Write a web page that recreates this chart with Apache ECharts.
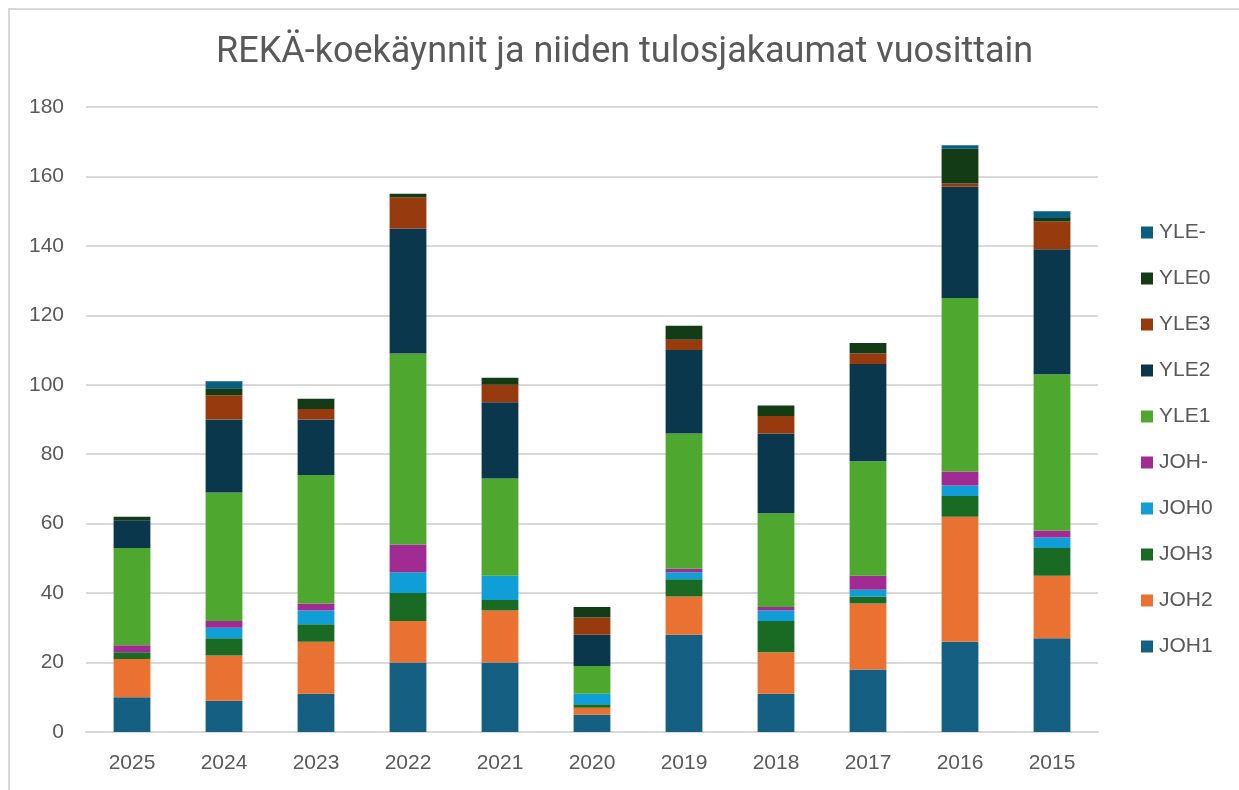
<!DOCTYPE html>
<html>
<head>
<meta charset="utf-8">
<title>REKÄ-koekäynnit</title>
<script src="https://cdn.jsdelivr.net/npm/echarts@6/dist/echarts.min.js"></script>
<style>
  html, body { margin: 0; padding: 0; background: #fff; }
  #frame { position: absolute; left: 8px; top: 8px; right: 0; bottom: 0;
           border-left: 2px solid #d9d9d9; border-top: 2px solid #d9d9d9; }
  #chart { position: absolute; left: 0; top: 0; width: 1239px; height: 790px; }
</style>
</head>
<body>
<div id="frame"></div>
<div id="chart"></div>
<script>
// vuodet
const years = ['2025', '2024', '2023', '2022', '2021', '2020', '2019', '2018', '2017', '2016', '2015'];

// tulokset alhaalta ylös
const joh1 = [10, 9, 11, 20, 20, 5, 28, 11, 18, 26, 27];
const joh2 = [11, 13, 15, 12, 15, 2, 11, 12, 19, 36, 18];
const joh3 = [2, 5, 5, 8, 3, 1, 5, 9, 2, 6, 8];
const joh0 = [0, 3, 4, 6, 7, 3, 2, 3, 2, 3, 3];
const johMiinus = [2, 2, 2, 8, 0, 0, 1, 1, 4, 4, 2];
const yle1 = [28, 37, 37, 55, 28, 8, 39, 27, 33, 50, 45];
const yle2 = [8, 21, 16, 36, 22, 9, 24, 23, 28, 32, 36];
const yle3 = [0, 7, 3, 9, 5, 5, 3, 5, 3, 1, 8];
const yle0 = [1, 2, 3, 1, 2, 3, 4, 3, 3, 10, 1];
const yleMiinus = [0, 2, 0, 0, 0, 0, 0, 0, 0, 1, 2];

const yTicks = [0, 20, 40, 60, 80, 100, 120, 140, 160, 180];

const seriesDefs = [
    ['JOH1', joh1, '#156082'],
    ['JOH2', joh2, '#E97132'],
    ['JOH3', joh3, '#196B24'],
    ['JOH0', joh0, '#0F9ED5'],
    ['JOH-', johMiinus, '#A02B93'],
    ['YLE1', yle1, '#4EA72E'],
    ['YLE2', yle2, '#0B374D'],
    ['YLE3', yle3, '#973B0E'],
    ['YLE0', yle0, '#123B16'],
    ['YLE-', yleMiinus, '#0A5E80']
];

const chart = echarts.init(document.getElementById('chart'), null, { renderer: 'canvas' });

const option = {
    animation: false,
    textStyle: { fontFamily: 'Liberation Sans, Arial, sans-serif' },
    title: {
        text: 'REKÄ-koekäynnit ja niiden tulosjakaumat vuosittain',
        left: 216,
        top: 35,
        padding: 0,
        textStyle: {
            fontFamily: "'Roboto', sans-serif",
            fontWeight: 'normal',
            fontSize: 36,
            color: '#595959'
        }
    },
    legend: {
        orient: 'vertical',
        left: 1141,
        top: 222,
        padding: 0,
        itemWidth: 12,
        itemHeight: 12,
        itemGap: 25,
        icon: 'rect',
        data: seriesDefs.map(d => d[0]).reverse(),
        textStyle: { fontSize: 21, color: '#595959', padding: [0, 0, 0, 1] }
    },
    grid: { left: 86, right: 141, top: 107, bottom: 58, containLabel: false },
    xAxis: {
        type: 'category',
        data: years,
        axisLine: { lineStyle: { color: '#d9d9d9', width: 2 } },
        axisTick: { show: false },
        axisLabel: { fontSize: 21, color: '#595959', margin: 21 }
    },
    yAxis: {
        type: 'value',
        min: yTicks[0],
        max: yTicks[yTicks.length - 1],
        interval: 20,
        axisLine: { show: false },
        axisTick: { show: false },
        splitLine: { lineStyle: { color: '#d9d9d9', width: 2 } },
        axisLabel: { fontSize: 21, color: '#595959', margin: 22 }
    },
    series: seriesDefs.map(([name, data, color]) => ({
        name: name,
        type: 'bar',
        stack: 'kaikki',
        data: data,
        barWidth: '40%',
        itemStyle: { color: color }
    }))
};

chart.setOption(option);
</script>
</body>
</html>
